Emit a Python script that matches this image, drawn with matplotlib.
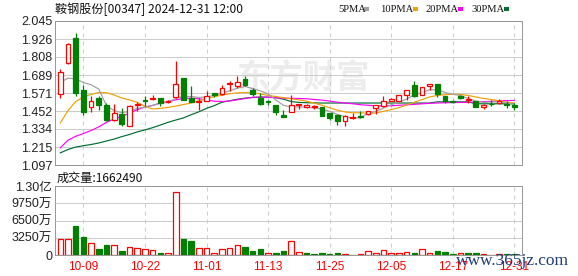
import matplotlib
matplotlib.use('Agg')

import matplotlib.pyplot as plt
from matplotlib.patches import Rectangle

plt.rcParams['font.family'] = ['Liberation Sans', 'Noto Sans CJK SC']

dates = ['10-04', '10-07', '10-08', '10-09', '10-10', '10-14', '10-15', '10-16', '10-17', '10-18',
         '10-21', '10-22', '10-23', '10-24', '10-25', '10-28', '10-29', '10-30', '10-31', '11-01',
         '11-04', '11-05', '11-06', '11-07', '11-08', '11-11', '11-12', '11-13', '11-14', '11-15',
         '11-18', '11-19', '11-20', '11-21', '11-22', '11-25', '11-26', '11-27', '11-28', '11-29',
         '12-02', '12-03', '12-04', '12-05', '12-06', '12-09', '12-10', '12-11', '12-12', '12-13',
         '12-16', '12-17', '12-18', '12-19', '12-20', '12-23', '12-24', '12-27', '12-30', '12-31']

opens = [1.566, 1.767, 1.930, 1.592, 1.478, 1.537, 1.494, 1.391, 1.433, 1.352,
         1.491, 1.522, 1.529, 1.537, 1.509, 1.544, 1.668, 1.537, 1.509, 1.520,
         1.570, 1.566, 1.631, 1.614, 1.662, 1.592, 1.537, 1.516, 1.494, 1.428,
         1.446, 1.494, 1.478, 1.476, 1.476, 1.439, 1.424, 1.385, 1.406, 1.422,
         1.433, 1.472, 1.483, 1.520, 1.520, 1.559, 1.625, 1.555, 1.614, 1.631,
         1.553, 1.518, 1.553, 1.526, 1.516, 1.478, 1.500, 1.505, 1.498, 1.494]
highs = [1.730, 1.898, 1.963, 1.625, 1.553, 1.548, 1.505, 1.500, 1.472, 1.494,
         1.509, 1.553, 1.557, 1.537, 1.526, 1.782, 1.668, 1.614, 1.537, 1.581,
         1.570, 1.625, 1.647, 1.684, 1.684, 1.603, 1.570, 1.526, 1.494, 1.461,
         1.555, 1.498, 1.500, 1.494, 1.476, 1.439, 1.424, 1.428, 1.439, 1.455,
         1.455, 1.494, 1.553, 1.537, 1.559, 1.592, 1.647, 1.609, 1.629, 1.631,
         1.553, 1.522, 1.559, 1.553, 1.520, 1.500, 1.522, 1.531, 1.516, 1.505]
lows = [1.535, 1.762, 1.553, 1.428, 1.443, 1.457, 1.385, 1.385, 1.352, 1.352,
        1.450, 1.487, 1.522, 1.487, 1.505, 1.540, 1.522, 1.509, 1.461, 1.516,
        1.544, 1.559, 1.581, 1.603, 1.614, 1.548, 1.494, 1.494, 1.428, 1.410,
        1.446, 1.465, 1.472, 1.465, 1.422, 1.391, 1.363, 1.352, 1.402, 1.409,
        1.424, 1.433, 1.478, 1.516, 1.516, 1.526, 1.544, 1.555, 1.592, 1.544,
        1.505, 1.505, 1.533, 1.505, 1.478, 1.465, 1.483, 1.498, 1.472, 1.461]
closes = [1.708, 1.893, 1.574, 1.443, 1.520, 1.494, 1.391, 1.439, 1.369, 1.487,
          1.500, 1.518, 1.535, 1.505, 1.520, 1.629, 1.522, 1.515, 1.516, 1.553,
          1.559, 1.607, 1.636, 1.642, 1.625, 1.566, 1.500, 1.509, 1.443, 1.410,
          1.489, 1.498, 1.491, 1.483, 1.422, 1.406, 1.385, 1.422, 1.413, 1.415,
          1.455, 1.494, 1.520, 1.533, 1.559, 1.592, 1.553, 1.609, 1.629, 1.565,
          1.520, 1.513, 1.537, 1.533, 1.478, 1.494, 1.496, 1.520, 1.491, 1.476]

ma5 = [1.640, 1.669, 1.664, 1.640, 1.625, 1.597, 1.487, 1.455, 1.441, 1.450,
       1.470, 1.478, 1.490, 1.504, 1.509, 1.535, 1.548, 1.548, 1.542, 1.545,
       1.555, 1.570, 1.585, 1.603, 1.614, 1.600, 1.585, 1.565, 1.525, 1.490,
       1.479, 1.479, 1.477, 1.472, 1.466, 1.450, 1.430, 1.415, 1.407, 1.407,
       1.439, 1.450, 1.472, 1.494, 1.509, 1.531, 1.559, 1.574, 1.592, 1.592,
       1.575, 1.562, 1.555, 1.535, 1.518, 1.509, 1.512, 1.512, 1.505, 1.498]
ma10 = [1.374, 1.455, 1.515, 1.545, 1.562, 1.574, 1.573, 1.558, 1.538, 1.525,
        1.510, 1.483, 1.466, 1.470, 1.476, 1.485, 1.495, 1.505, 1.520, 1.535,
        1.547, 1.556, 1.566, 1.572, 1.574, 1.572, 1.565, 1.555, 1.548, 1.540,
        1.533, 1.526, 1.517, 1.505, 1.490, 1.474, 1.458, 1.446, 1.441, 1.441,
        1.438, 1.440, 1.450, 1.462, 1.475, 1.492, 1.510, 1.528, 1.545, 1.555,
        1.560, 1.563, 1.562, 1.555, 1.545, 1.535, 1.528, 1.520, 1.510, 1.505]
ma20 = [1.210, 1.260, 1.286, 1.304, 1.324, 1.348, 1.378, 1.400, 1.417, 1.439,
        1.461, 1.479, 1.489, 1.505, 1.515, 1.526, 1.535, 1.537, 1.533, 1.525,
        1.517, 1.515, 1.518, 1.526, 1.535, 1.542, 1.544, 1.543, 1.540, 1.537,
        1.536, 1.535, 1.533, 1.528, 1.524, 1.518, 1.510, 1.505, 1.500, 1.494,
        1.490, 1.487, 1.486, 1.487, 1.490, 1.493, 1.496, 1.500, 1.503, 1.505,
        1.507, 1.508, 1.509, 1.510, 1.512, 1.514, 1.516, 1.519, 1.521, 1.522]
ma30 = [1.177, 1.199, 1.215, 1.224, 1.232, 1.242, 1.255, 1.268, 1.284, 1.298,
        1.315, 1.328, 1.343, 1.360, 1.378, 1.393, 1.407, 1.428, 1.447, 1.470,
        1.488, 1.510, 1.520, 1.530, 1.537, 1.542, 1.544, 1.544, 1.540, 1.530,
        1.515, 1.509, 1.507, 1.506, 1.505, 1.505, 1.505, 1.505, 1.505, 1.505,
        1.505, 1.505, 1.505, 1.505, 1.505, 1.505, 1.505, 1.505, 1.505, 1.513,
        1.513, 1.513, 1.513, 1.513, 1.500, 1.500, 1.500, 1.500, 1.500, 1.500]

# volume in millions of shares
volumes = [30.3, 30.3, 53.7, 34.7, 23.4, 12.0, 19.6, 19.6, 8.2, 14.5,
           13.3, 11.4, 9.5, 3.2, 3.2, 118.8, 30.3, 27.2, 13.3, 13.3,
           3.2, 11.4, 13.3, 19.6, 14.5, 8.2, 12.0, 3.2, 3.2, 7.0,
           27.2, 6.3, 3.8, 1.9, 3.8, 2.5, 4.4, 2.5, 0.6, 2.5,
           7.6, 4.4, 9.5, 3.2, 4.4, 6.3, 4.4, 10.7, 4.4, 8.2,
           6.3, 2.5, 4.4, 4.4, 4.4, 2.5, 0.9, 1.2, 1.4, 1.66]

price_ticks = [1.097, 1.215, 1.334, 1.452, 1.571, 1.689, 1.808, 1.926, 2.045]
vol_ticks = [0, 32.5, 65, 97.5, 130]
vol_labels = ['0', '3250万', '6500万', '9750万', '1.30亿']
shown_dates = ['10-09', '10-22', '11-01', '11-13', '11-25', '12-05', '12-17', '12-31']

RED = '#ff0000'
GREEN = '#008000'
GRID = '#cccccc'
FRAME = '#999999'
px = 0.72  # one pixel in points at dpi 100

W, H = 578, 276
fig = plt.figure(figsize=(W / 100, H / 100), dpi=100)
fig.patch.set_facecolor('white')

def ax_rect(l, t, r, b):
    return [l / W, 1 - b / H, (r - l) / W, (b - t) / H]

ax = fig.add_axes(ax_rect(55, 21, 522, 165))
axv = fig.add_axes(ax_rect(55, 186, 522, 255))

n = len(dates)
xs = list(range(n))
xlim = (-0.69, n - 1 + 1.0)
tick_pos = [dates.index(d) for d in shown_dates]

for a in (ax, axv):
    a.set_xlim(*xlim)
    a.set_xticks(tick_pos)
    a.xaxis.grid(True, color=GRID, lw=px, ls=(0, (4, 4)))
    a.yaxis.grid(True, color=GRID, lw=px, ls='-')
    a.set_axisbelow(True)
    for s in a.spines.values():
        s.set_color(FRAME)
        s.set_linewidth(px)
    a.tick_params(length=0, pad=2, labelsize=9, colors='#222222')

# watermark
ax.text(0.53, 0.60, '东方财富', transform=ax.transAxes, fontsize=24, fontweight='bold',
        color='#ececec', ha='center', va='center', family='Noto Sans CJK SC', zorder=0)

# price panel
ax.set_ylim(price_ticks[0], price_ticks[-1])
ax.set_yticks(price_ticks)
ax.set_yticklabels(['%.3f' % t for t in price_ticks])
ax.set_xticklabels([])

ax.plot(xs, ma30, color='#006e32', lw=0.85, zorder=2)
ax.plot(xs, ma20, color='#ff00ff', lw=0.85, zorder=2)
ax.plot(xs, ma10, color='#f0a000', lw=0.85, zorder=2)
ax.plot(xs, ma5, color='#a0a0a0', lw=0.85, zorder=2)

bw = 0.62
for i in xs:
    o, h, l, c = opens[i], highs[i], lows[i], closes[i]
    up = c >= o
    col = RED if up else GREEN
    ax.vlines(i, l, h, color=col, lw=0.9, zorder=3)
    bot = min(o, c)
    ht = max(abs(c - o), 0.002)
    ax.add_patch(Rectangle((i - bw / 2, bot), bw, ht, facecolor='white' if up else GREEN,
                           edgecolor=col, lw=0.9, zorder=4))

# volume panel
axv.set_ylim(0, 130)
axv.set_yticks(vol_ticks)
axv.set_yticklabels(vol_labels)
axv.set_xticklabels(shown_dates, color=RED, fontsize=8.5)
axv.tick_params(axis='x', pad=4, colors=RED)

for i in xs:
    prev = closes[i - 1] if i > 0 else opens[i]
    up = closes[i] >= prev
    col = RED if up else GREEN
    axv.add_patch(Rectangle((i - 0.36, 0), 0.72, volumes[i], facecolor='white' if up else GREEN,
                            edgecolor=col, lw=0.9, zorder=3))

# titles and legend
fig.text(55 / W, 1 - 9 / H, '鞍钢股份[00347] 2024-12-31 12:00', fontsize=8.7,
         family=['Noto Sans CJK SC'], va='center', ha='left', color='#111111')
fig.text(57 / W, 1 - 178 / H, '成交量:1662490', fontsize=8.7,
         family=['Noto Sans CJK SC'], va='center', ha='left', color='#111111')

legend = [('5PMA', '#a0a0a0', 338), ('10PMA', '#f0a000', 380),
          ('20PMA', '#ff00ff', 425), ('30PMA', '#006e32', 471)]
for name, col, x0 in legend:
    fig.text(x0 / W, 1 - 9 / H, name, fontsize=7.6, family='Liberation Serif',
             va='center', ha='left', color='#111111')
    tx = x0 + 7.0 * len(name) - 2
    fig.patches.append(Rectangle((tx / W, 1 - 11 / H), 5 / W, 4 / H, facecolor=col,
                                 edgecolor='none', transform=fig.transFigure, figure=fig))

fig.text(456 / W, 1 - 261 / H, 'www.365jz.com', fontsize=12.5, family='Liberation Serif',
         color='#1f3c78', va='center', ha='left', zorder=10)

fig.savefig('out.png', dpi=100, facecolor='white')
